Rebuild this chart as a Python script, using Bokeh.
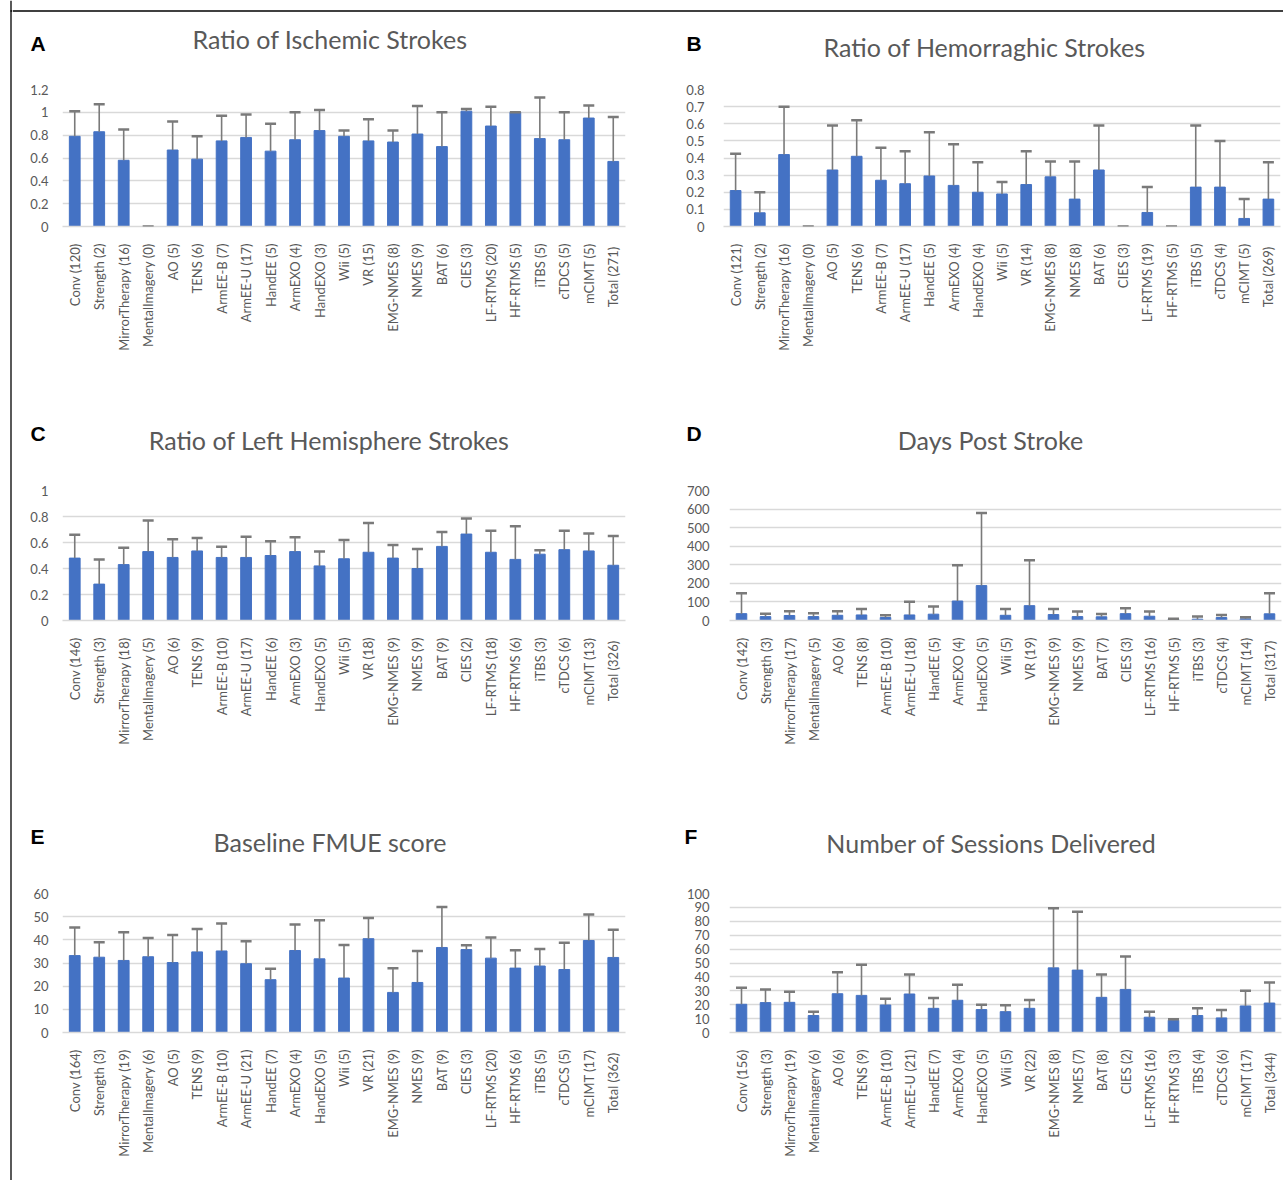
import math
from bokeh.plotting import figure
from bokeh.models import (ColumnDataSource, Whisker, TeeHead, FixedTicker,
                          NumeralTickFormatter, Range1d, FactorRange, Span)
from bokeh.core.properties import value
from bokeh.layouts import column, row
from bokeh.embed import file_html
from bokeh.resources import INLINE

names = ["Conv", "Strength", "MirrorTherapy", "MentalImagery", "AO", "TENS", "ArmEE-B",
         "ArmEE-U", "HandEE", "ArmEXO", "HandEXO", "Wii", "VR", "EMG-NMES", "NMES", "BAT",
         "CIES", "LF-RTMS", "HF-RTMS", "iTBS", "cTDCS", "mCIMT", "Total "]

# Panel A: Ratio of Ischemic Strokes
n_A = [120, 2, 16, 0, 5, 6, 7, 17, 5, 4, 3, 5, 15, 8, 9, 6, 3, 20, 5, 5, 5, 5, 271]
mean_A = [0.79, 0.83, 0.58, 0, 0.67, 0.59, 0.75, 0.78, 0.66, 0.76, 0.84, 0.79, 0.75, 0.74,
          0.81, 0.70, 1.01, 0.88, 1.00, 0.77, 0.76, 0.95, 0.57]
upper_A = [1.01, 1.07, 0.85, 0, 0.92, 0.79, 0.97, 0.98, 0.90, 1.00, 1.02, 0.84, 0.94, 0.84,
           1.055, 1.00, 1.03, 1.05, 1.00, 1.13, 1.00, 1.06, 0.96]
ticks_A = [0, 0.2, 0.4, 0.6, 0.8, 1.0, 1.2]

# Panel B: Ratio of Hemorraghic Strokes
n_B = [121, 2, 16, 0, 5, 6, 7, 17, 5, 4, 4, 5, 14, 8, 8, 6, 3, 19, 5, 5, 4, 5, 269]
mean_B = [0.21, 0.08, 0.42, 0, 0.33, 0.41, 0.27, 0.25, 0.295, 0.24, 0.20, 0.19, 0.245, 0.29,
          0.16, 0.33, 0, 0.082, 0, 0.23, 0.23, 0.047, 0.16]
upper_B = [0.425, 0.20, 0.70, 0, 0.59, 0.62, 0.46, 0.44, 0.55, 0.48, 0.375, 0.26, 0.44, 0.38,
           0.38, 0.59, 0, 0.23, 0, 0.59, 0.50, 0.16, 0.375]
ticks_B = [0, 0.1, 0.2, 0.3, 0.4, 0.5, 0.6, 0.7, 0.8]

# Panel C: Ratio of Left Hemisphere Strokes
n_C = [146, 3, 18, 5, 6, 9, 10, 17, 6, 3, 5, 5, 18, 9, 9, 9, 2, 18, 6, 3, 6, 13, 326]
mean_C = [0.48, 0.28, 0.43, 0.53, 0.485, 0.535, 0.485, 0.485, 0.50, 0.53, 0.42, 0.475, 0.525,
          0.48, 0.40, 0.57, 0.665, 0.525, 0.47, 0.51, 0.545, 0.535, 0.425]
upper_C = [0.66, 0.47, 0.56, 0.77, 0.625, 0.635, 0.567, 0.645, 0.61, 0.64, 0.53, 0.62, 0.75,
           0.58, 0.55, 0.68, 0.785, 0.69, 0.725, 0.54, 0.69, 0.67, 0.65]
ticks_C = [0, 0.2, 0.4, 0.6, 0.8, 1.0]

# Panel D: Days Post Stroke
n_D = [142, 3, 17, 5, 6, 8, 10, 18, 5, 4, 5, 5, 19, 9, 9, 7, 3, 16, 5, 3, 4, 14, 317]
mean_D = [37, 21, 27, 21, 28, 30, 16, 30, 34, 105, 188, 28, 80, 32, 21, 20, 37, 23, 7, 7, 16, 9, 36]
upper_D = [147, 37, 50, 39, 50, 62, 28, 101, 75, 298, 579, 62, 325, 62, 48, 35, 66, 48, 9, 21,
           30, 18, 147]
ticks_D = [0, 100, 200, 300, 400, 500, 600, 700]

# Panel E: Baseline FMUE score
n_E = [164, 3, 19, 6, 5, 9, 10, 21, 7, 4, 5, 5, 21, 9, 9, 9, 3, 20, 6, 5, 5, 17, 362]
mean_E = [33.2, 32.5, 31.1, 32.7, 30.2, 34.8, 35.2, 29.7, 22.8, 35.4, 31.8, 23.5, 40.5, 17.3,
          21.6, 36.7, 35.8, 32.1, 27.8, 28.7, 27.2, 39.7, 32.4]
upper_E = [45.3, 39.0, 43.3, 40.8, 42.1, 44.7, 47.0, 39.4, 27.5, 46.6, 48.4, 37.8, 49.4, 27.7,
           35.2, 54.2, 37.7, 41.0, 35.5, 36.0, 38.7, 50.9, 44.4]
ticks_E = [0, 10, 20, 30, 40, 50, 60]

# Panel F: Number of Sessions Delivered
n_F = [156, 3, 19, 6, 6, 9, 10, 21, 7, 4, 5, 5, 22, 8, 7, 8, 2, 16, 3, 4, 6, 17, 344]
mean_F = [20.3, 21.5, 21.7, 12.2, 27.9, 26.7, 19.8, 27.7, 17.4, 23.2, 16.5, 15.0, 17.4, 46.5,
          44.9, 25.3, 31.0, 11.0, 8.8, 12.2, 10.5, 19.1, 21.2]
upper_F = [32.2, 31.0, 29.4, 15.0, 43.4, 48.7, 24.3, 41.8, 24.8, 34.4, 20.0, 19.6, 23.4, 89.3,
           86.9, 41.8, 54.7, 15.0, 9.5, 17.4, 16.2, 30.1, 36.0]
ticks_F = [0, 10, 20, 30, 40, 50, 60, 70, 80, 90, 100]

titles = ["Ratio of Ischemic Strokes", "Ratio of Hemorraghic Strokes",
          "Ratio of Left Hemisphere Strokes", "Days Post Stroke",
          "Baseline FMUE score", "Number of Sessions Delivered"]
letters = ["A", "B", "C", "D", "E", "F"]

FONT = "Lato"
BAR = "#4472C4"
ERR = "#7A7A7A"
GRID = "#D9D9D9"
TXT = "#595959"
WTOT = 1271


def header(h, lets, lxs, lys, tits, txs, tys, top_line=False):
    hp = figure(width=WTOT, height=h, x_range=Range1d(0, WTOT), y_range=Range1d(h, 0),
                x_axis_type=None, y_axis_type=None, output_backend="svg",
                toolbar_location=None, min_border=0)
    hp.outline_line_color = None
    hp.text(x=txs, y=tys, text=tits, text_font=value(FONT), text_font_size="25px",
            text_color=TXT, text_align="center", text_baseline="middle")
    hp.text(x=lxs, y=lys, text=lets, text_font=value("Liberation Sans"),
            text_font_size="21px", text_font_style="bold", text_color="black",
            text_align="left", text_baseline="middle")
    if top_line:
        hp.add_layout(Span(location=10.5, dimension="width", line_color="black",
                           line_width=1.3))
    return hp


def panel(counts, means, uppers, ticks, fmt, w, h, top, bottom, left, right, ystand):
    cats = [f"{nm} ({c})" for nm, c in zip(names, counts)]
    src = ColumnDataSource(dict(cat=cats, mean=means, upper=uppers))
    p = figure(width=w, height=h, x_range=FactorRange(*cats, range_padding=0),
               y_range=Range1d(0, ticks[-1]), output_backend="svg", toolbar_location=None,
               min_border_top=top, min_border_bottom=bottom,
               min_border_left=left, min_border_right=right)
    p.outline_line_color = None
    p.vbar(x="cat", top="mean", width=0.44, source=src, fill_color=BAR, line_color=BAR)
    p.add_layout(Whisker(base="cat", upper="upper", lower="mean", source=src,
                         line_color=ERR, line_width=1.6,
                         upper_head=TeeHead(size=11, line_color=ERR, line_width=2.5),
                         lower_head=None, level="overlay"))
    p.xgrid.grid_line_color = None
    p.ygrid.grid_line_color = GRID
    p.ygrid.grid_line_width = 1.5
    p.yaxis.ticker = FixedTicker(ticks=ticks)
    p.yaxis.formatter = NumeralTickFormatter(format=fmt)
    for ax in (p.xaxis, p.yaxis):
        ax.major_tick_line_color = None
        ax.minor_tick_line_color = None
        ax.major_label_text_font = FONT
        ax.major_label_text_font_size = "13px"
        ax.major_label_text_color = TXT
    p.yaxis.axis_line_color = None
    p.yaxis.major_label_standoff = ystand
    p.xaxis.axis_line_color = GRID
    p.xaxis.axis_line_width = 1.5
    p.xaxis.major_label_orientation = math.pi / 2
    p.xaxis.major_label_standoff = 11
    return p


W1, W2 = 631, 640

h1 = header(70, ["A", "B"], [18, 674], [43, 43], titles[0:2], [317.5, 972], [38, 46],
            top_line=True)
pA = panel(n_A, mean_A, upper_A, ticks_A, "0.[0]", W1, 342, 19, 186, 50, 18, 8)
pB = panel(n_B, mean_B, upper_B, ticks_B, "0.[0]", W2, 342, 19, 186, 80, 3, 13)

h2 = header(60, ["C", "D"], [18, 674], [21, 21], titles[2:4], [316.5, 978], [27, 27])
pC = panel(n_C, mean_C, upper_C, ticks_C, "0.[0]", W1, 340, 18, 192, 50, 18, 8)
pD = panel(n_D, mean_D, upper_D, ticks_D, "0", W2, 340, 18, 192, 86, 2, 14)

h3 = header(60, ["E", "F"], [18, 672], [24, 24], titles[4:6], [317.5, 979], [29, 30])
pE = panel(n_E, mean_E, upper_E, ticks_E, "0", W1, 308, 20, 148, 50, 18, 8)
pF = panel(n_F, mean_F, upper_F, ticks_F, "0", W2, 308, 21, 147, 86, 2, 14)

# thin outer frame line on the left / top of the whole figure
strip = figure(width=12, height=1180, x_range=Range1d(0, 12), y_range=Range1d(1180, 0),
               x_axis_type=None, y_axis_type=None, output_backend="svg",
               toolbar_location=None, min_border=0)
strip.outline_line_color = None
strip.add_layout(Span(location=10.5, dimension="height", line_color="black", line_width=1.3))
strip.segment(x0=[10], y0=[10.5], x1=[12], y1=[10.5], line_color="black", line_width=1.3)

body = column(h1, row(pA, pB), h2, row(pC, pD), h3, row(pE, pF))
layout = row(strip, body)
open("out.html", "w").write(file_html(layout, INLINE))
